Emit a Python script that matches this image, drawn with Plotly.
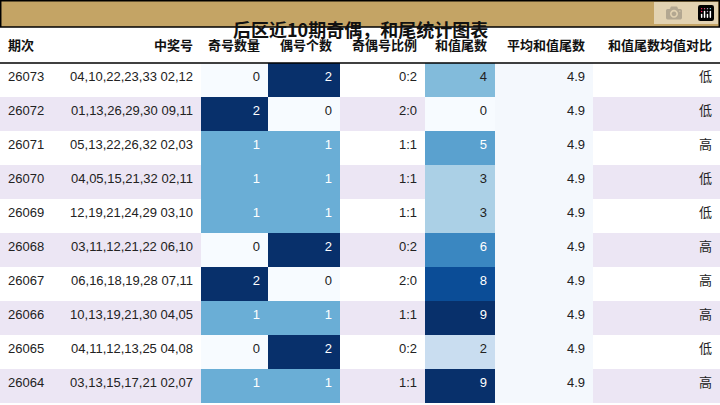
import plotly.graph_objects as go

issues = ["26073","26072","26071","26070","26069","26068","26067","26066","26065","26064"]
numbers = ["04,10,22,23,33 02,12","01,13,26,29,30 09,11","05,13,22,26,32 02,03","04,05,15,21,32 02,11",
           "12,19,21,24,29 03,10","03,11,12,21,22 06,10","06,16,18,19,28 07,11","10,13,19,21,30 04,05",
           "04,11,12,13,25 04,08","03,13,15,17,21 02,07"]
odd_cnt = [0,2,1,1,1,0,2,1,0,1]
even_cnt = [2,0,1,1,1,2,0,1,2,1]
ratio = ["0:2","2:0","1:1","1:1","1:1","0:2","2:0","1:1","0:2","1:1"]
tail = [4,0,5,3,3,6,8,9,2,9]
avg_tail = [4.9]*10
compare = ["低","低","高","低","低","高","高","高","低","高"]
headers = ["期次","中奖号","奇号数量","偶号个数","奇偶号比例","和值尾数","平均和值尾数","和值尾数均值对比"]

cnt_col = {0:"#f7fbff",1:"#6aaed6",2:"#08306b"}
tail_col = {0:"#f7fbff",2:"#c9ddf0",3:"#abd0e6",4:"#82bbdb",5:"#5aa1cf",6:"#3a87c1",8:"#0b4d97",9:"#08306b"}
def txt(c): return "white" if c in ("#6aaed6","#08306b","#5aa1cf","#3a87c1","#0b4d97") else "#222"

stripe = ["white" if i%2==0 else "#ece6f4" for i in range(10)]
odd_c = [cnt_col[v] for v in odd_cnt]
even_c = [cnt_col[v] for v in even_cnt]
tail_c = [tail_col[v] for v in tail]
avg_c = ["#f4f8fd"]*10
fills = [stripe, stripe, odd_c, even_c, stripe, tail_c, avg_c, stripe]
fonts = [["#222"]*10, ["#222"]*10, [txt(c) for c in odd_c], [txt(c) for c in even_c],
         ["#222"]*10, [txt(c) for c in tail_c], ["#222"]*10, ["#222"]*10]

nb = [n.replace(" ", "\u00a0") for n in numbers]
widths = [55,146,67,72,85,70,98,127]
fig = go.Figure(go.Table(
    columnwidth=widths,
    domain=dict(x=[0,1], y=[0, 1-27/405]),
    header=dict(values=[f"<b>{h}</b>" for h in headers], height=36,
                align=["left","right"]+["right"]*6, fill_color="white",
                line=dict(width=0, color="white"),
                font=dict(family="Noto Sans CJK SC", size=13, color="#111")),
    cells=dict(values=[issues, nb, odd_cnt, even_cnt, ratio, tail, avg_tail, compare],
               height=34, align=["left","right"]+["right"]*6,
               fill_color=fills, line=dict(width=0, color="white"),
               font=dict(family="Liberation Sans, Noto Sans CJK SC", size=13, color=fonts)),
))
fig.add_shape(type="rect", xref="paper", yref="paper", x0=0.001, x1=0.999, y0=1-27/405, y1=0.998,
              fillcolor="#c4a465", line=dict(color="black", width=1.5))
fig.add_shape(type="line", xref="paper", yref="paper", x0=0, x1=1, y0=1-63/405, y1=1-63/405,
              line=dict(color="black", width=1.5))
fig.add_annotation(text="<b>后区近10期奇偶，和尾统计图表</b>", xref="paper", yref="paper",
                   x=0.5, y=1-13.5/405, showarrow=False,
                   font=dict(family="Noto Sans CJK SC", size=18, color="#111"))
fig.update_layout(width=720, height=405, margin=dict(l=0,r=0,t=0,b=0), paper_bgcolor="white")
fig.write_html("out.html")
with open("out.html", encoding="utf-8") as f:
    html = f.read()
html = html.replace("<head>", "<head><style>html,body{margin:0;padding:0;overflow:hidden}</style>", 1)
with open("out.html", "w", encoding="utf-8") as f:
    f.write(html)
